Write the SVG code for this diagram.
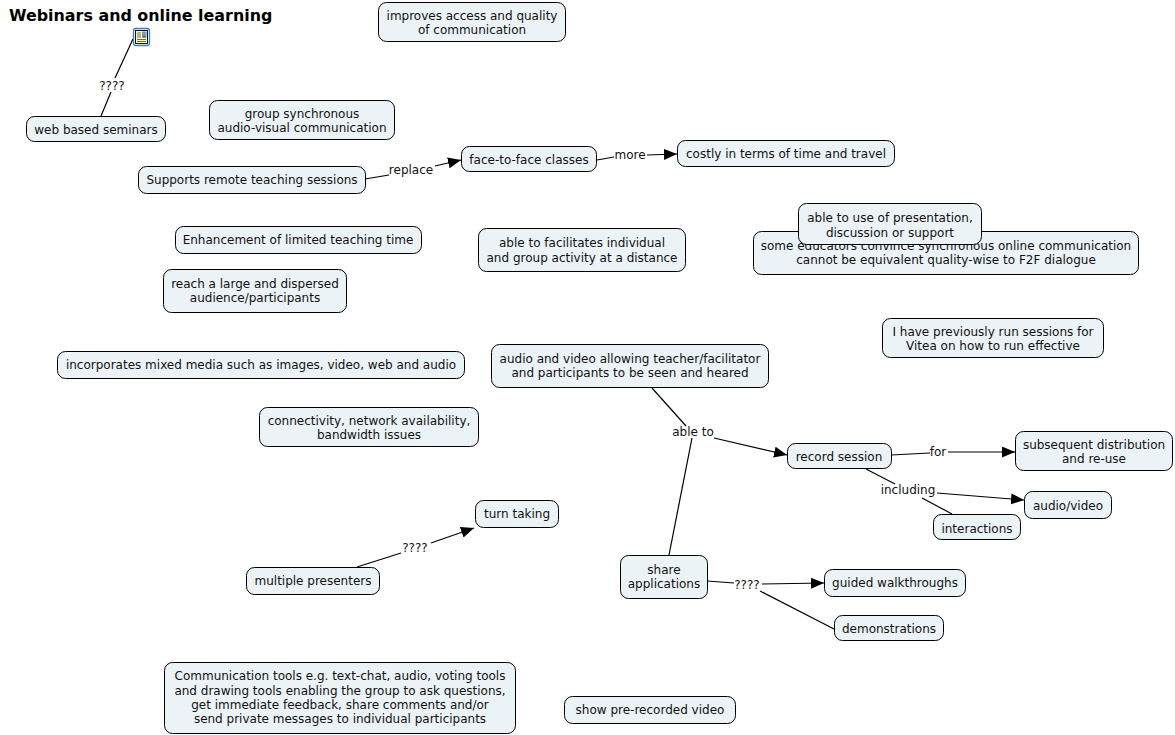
<svg xmlns="http://www.w3.org/2000/svg" width="1175" height="735" viewBox="0 0 1175 735">
<style>
.n rect{fill:#ecf3f6;stroke:#000;stroke-width:1}
text{font-family:"DejaVu Sans",Verdana,sans-serif;font-size:12px;fill:#111;text-anchor:middle}
.title{font-weight:bold;font-size:15.9px;text-anchor:start;fill:#000}
#connectors path{fill:none;stroke:#000;stroke-width:1.2}
.a{marker-end:url(#arr)}
</style>
<defs><marker id="arr" markerUnits="userSpaceOnUse" markerWidth="14" markerHeight="12" refX="13" refY="5.500" orient="auto"><path d="M0 0L13 5.500L0 11Z" fill="#000"/></marker></defs>
<rect width="1175" height="735" fill="#fff"/>
<text class="title" x="9" y="21">Webinars and online learning</text>
<g id="connectors">
<path d="M133 39L115 78M111 92L101 116"/>
<path d="M365 179L389 175"/><path class="a" d="M435 166L461 160"/>
<path d="M597 160L614 157"/><path class="a" d="M647 155L677 154"/>
<path d="M652 388L686 426"/><path d="M692 438L669 555"/>
<path class="a" d="M714 438L787 455"/>
<path d="M891 455L930 453"/><path class="a" d="M948 452L1015 452"/>
<path d="M866 469L895 484"/><path class="a" d="M937 493L1024 500"/><path d="M922 498L952 514"/>
<path d="M707 581L734 583"/><path class="a" d="M762 584L824 583"/><path d="M760 591L834 629"/>
<path d="M357 567L401 553"/><path class="a" d="M431 543L474 528"/>
</g>
<g id="icon"><rect x="133.500" y="28.500" width="16" height="17" rx="2.500" fill="#fff" stroke="#3f79c4" stroke-width="1.300"/><rect x="135.500" y="30.500" width="12" height="13" fill="#fdf6c0" stroke="#111" stroke-width="1"/><path d="M137 33h4M137 35h4M137 37h4M137 39.500h9M137 41.500h9" stroke="#333" stroke-width=".7"/><rect x="142" y="31.500" width="4.500" height="6" fill="#7a9cc6"/><path d="M142 37.500l2-2.500 2.500 2.500z" fill="#3d7a45"/></g>
<g id="lab1"><text x="112" y="90">????</text></g>
<g id="lab2"><text x="411" y="174">replace</text></g>
<g id="lab3"><text x="630" y="159">more</text></g>
<g id="lab4"><text x="693" y="436">able to</text></g>
<g id="lab5"><text x="938" y="456">for</text></g>
<g id="lab6"><text x="908" y="494">including</text></g>
<g id="lab7"><text x="747" y="589">????</text></g>
<g id="lab8"><text x="415" y="552">????</text></g>
<g class="n" id="n1"><rect x="378.500" y="2.500" width="187" height="39" rx="8"/><text x="472" y="20">improves access and quality</text><text x="472" y="34">of communication</text></g>
<g class="n" id="n2"><rect x="26.500" y="116.500" width="139" height="25" rx="8"/><text x="96" y="134">web based seminars</text></g>
<g class="n" id="n3"><rect x="209.500" y="100.500" width="185" height="39" rx="8"/><text x="302" y="118">group synchronous</text><text x="302" y="132">audio-visual communication</text></g>
<g class="n" id="n4"><rect x="138.500" y="166.500" width="227" height="27" rx="8"/><text x="252" y="184">Supports remote teaching sessions</text></g>
<g class="n" id="n5"><rect x="461.500" y="146.500" width="135" height="25" rx="8"/><text x="529" y="164">face-to-face classes</text></g>
<g class="n" id="n6"><rect x="677.500" y="140.500" width="217" height="26" rx="8"/><text x="786" y="158">costly in terms of time and travel</text></g>
<g class="n" id="n7"><rect x="175.500" y="226.500" width="246" height="27" rx="8"/><text x="298" y="244">Enhancement of limited teaching time</text></g>
<g class="n" id="n8"><rect x="478.500" y="228.500" width="207" height="43" rx="8"/><text x="582" y="247">able to facilitates individual</text><text x="582" y="262">and group activity at a distance</text></g>
<g class="n" id="n9"><rect x="753.500" y="231.500" width="385" height="43" rx="8"/><text x="946" y="250">some educators convince synchronous online communication</text><text x="946" y="264">cannot be equivalent quality-wise to F2F dialogue</text></g>
<g class="n" id="n10"><rect x="798.500" y="203.500" width="183" height="41" rx="8"/><text x="890" y="222">able to use of presentation,</text><text x="890" y="237">discussion or support</text></g>
<g class="n" id="n11"><rect x="163.500" y="269.500" width="183" height="43" rx="8"/><text x="255" y="288">reach a large and dispersed</text><text x="255" y="302">audience/participants</text></g>
<g class="n" id="n12"><rect x="882.500" y="318.500" width="221" height="39" rx="8"/><text x="993" y="336">I have previously run sessions for</text><text x="993" y="350">Vitea on how to run effective</text></g>
<g class="n" id="n13"><rect x="57.500" y="351.500" width="407" height="27" rx="8"/><text x="261" y="369">incorporates mixed media such as images, video, web and audio</text></g>
<g class="n" id="n14"><rect x="491.500" y="344.500" width="277" height="43" rx="8"/><text x="630" y="363">audio and video allowing teacher/facilitator</text><text x="630" y="377">and participants to be seen and heared</text></g>
<g class="n" id="n15"><rect x="259.500" y="407.500" width="219" height="39" rx="8"/><text x="369" y="425">connectivity, network availability,</text><text x="369" y="439">bandwidth issues</text></g>
<g class="n" id="n16"><rect x="787.500" y="443.500" width="104" height="25" rx="8"/><text x="839" y="461">record session</text></g>
<g class="n" id="n17"><rect x="1015.500" y="431.500" width="157" height="39" rx="8"/><text x="1094" y="449">subsequent distribution</text><text x="1094" y="463">and re-use</text></g>
<g class="n" id="n18"><rect x="1024.500" y="491.500" width="87" height="27" rx="8"/><text x="1068" y="510">audio/video</text></g>
<g class="n" id="n19"><rect x="933.500" y="514.500" width="87" height="25" rx="8"/><text x="977" y="533">interactions</text></g>
<g class="n" id="n20"><rect x="475.500" y="500.500" width="83" height="27" rx="8"/><text x="517" y="518">turn taking</text></g>
<g class="n" id="n21"><rect x="246.500" y="567.500" width="133" height="27" rx="8"/><text x="313" y="585">multiple presenters</text></g>
<g class="n" id="n22"><rect x="620.500" y="555.500" width="87" height="43" rx="8"/><text x="664" y="574">share</text><text x="664" y="588">applications</text></g>
<g class="n" id="n23"><rect x="824.500" y="569.500" width="141" height="27" rx="8"/><text x="895" y="587">guided walkthroughs</text></g>
<g class="n" id="n24"><rect x="834.500" y="615.500" width="109" height="25" rx="8"/><text x="889" y="633">demonstrations</text></g>
<g class="n" id="n25"><rect x="164.500" y="662.500" width="351" height="71" rx="8"/><text x="340" y="680">Communication tools e.g. text-chat, audio, voting tools</text><text x="340" y="695">and drawing tools enabling the group to ask questions,</text><text x="340" y="709">get immediate feedback, share comments and/or</text><text x="340" y="723">send private messages to individual participants</text></g>
<g class="n" id="n26"><rect x="564.500" y="696.500" width="171" height="27" rx="8"/><text x="650" y="714">show pre-recorded video</text></g>
</svg>
